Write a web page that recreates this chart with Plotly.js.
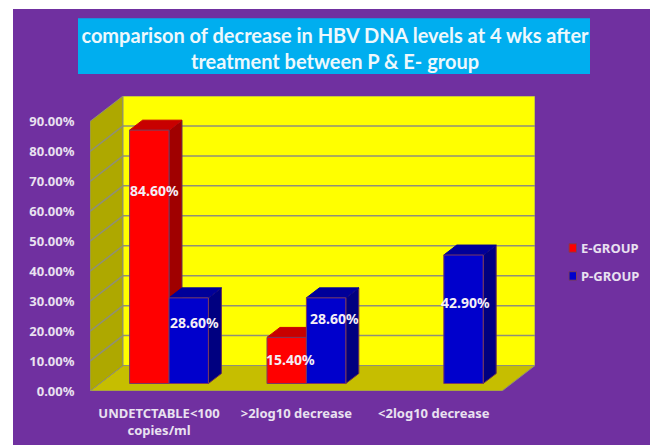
<!DOCTYPE html>
<html>
<head>
<meta charset="utf-8">
<script src="https://cdn.plot.ly/plotly-3.0.1.min.js"></script>
<style>
html,body{margin:0;padding:0;background:#fff;overflow:hidden}
#chart{position:absolute;left:13px;top:9px;width:637px;height:436px}
</style>
</head>
<body>
<div id="chart"></div>
<script>
// ---- data ----
const categoryIndex = [0, 1, 2];
const categoryLabels = ['UNDETCTABLE&lt;100<br>copies/ml', '&gt;2log10 decrease', '&lt;2log10 decrease'];
const seriesNames = ['E-GROUP', 'P-GROUP'];
const eGroup = [84.6, 15.4, null];
const pGroup = [28.6, 28.6, 42.9];
const yTicks = [0, 10, 20, 30, 40, 50, 60, 70, 80, 90];
const yTickLabels = ['0.00%', '10.00%', '20.00%', '30.00%', '40.00%', '50.00%', '60.00%', '70.00%', '80.00%', '90.00%'];
const titleText = 'comparison of decrease in HBV DNA levels at 4 wks after<br>treatment between P &amp; E- group';

// ---- 3-D look: projection offsets (x in category units, y in percent points) ----
const pxX = 137.4, pxY = 3;
const xMin = -79 / pxX, xMax = (535 - 90) / pxX + xMin;
const yMax = 295.5 / pxY;
const wallDX = 33 / pxX, wallDY = 25.5 / pxY;
const barBase = 7.5 / pxY, barShiftX = 10 / pxX;
const depthDX = 13 / pxX, depthDY = 10 / pxY;
const barW = 39.4 / pxX;
const frontRight = xMax - wallDX;
const yTop = 90;
const red = '#ff0000', blue = '#0000cc', barEdge = '#7a3a60';

const P = pts => 'M' + pts.map(p => p[0] + ',' + p[1]).join('L') + 'Z';
const poly = (pts, fill, line, w) => ({type: 'path', xref: 'x', yref: 'y', layer: 'below', path: P(pts),
  fillcolor: fill, line: {color: line || fill, width: w === undefined ? 1 : w}});
const seg = (a, b) => ({type: 'line', xref: 'x', yref: 'y', layer: 'below', x0: a[0], y0: a[1], x1: b[0], y1: b[1],
  line: {color: '#8f8f78', width: 1.5}});
const fx = px => (px - 90) / 445, fy = px => (391.5 - px) / 295.5;

const edge = '#8f8f78';
const shapes = [];
// title box
shapes.push({type: 'rect', xref: 'paper', yref: 'paper', layer: 'below',
  x0: fx(78), x1: fx(590), y0: fy(74), y1: fy(18), fillcolor: '#00aeef', line: {width: 0}});
// floor, side wall, back wall
shapes.push(poly([[xMin, 0], [frontRight, 0], [xMax, wallDY], [xMin + wallDX, wallDY]], '#c6be00', edge, 1));
shapes.push(poly([[xMin, 0], [xMin + wallDX, wallDY], [xMin + wallDX, yTop + wallDY], [xMin, yTop]], '#aea800', edge, 1));
shapes.push(poly([[xMin + wallDX, wallDY], [xMax, wallDY], [xMax, yTop + wallDY], [xMin + wallDX, yTop + wallDY]], '#ffff00', edge, 1));
yTicks.slice(1, -1).forEach(t => {
  shapes.push(seg([xMin, t], [xMin + wallDX, t + wallDY]));
  shapes.push(seg([xMin + wallDX, t + wallDY], [xMax, t + wallDY]));
});

// bar side and top faces, back to front
function faces(x0, v, top, side) {
  const x1 = x0 + barW, y0 = barBase, y1 = barBase + v;
  shapes.push(poly([[x1, y0], [x1 + depthDX, y0 + depthDY], [x1 + depthDX, y1 + depthDY], [x1, y1]], side, '#6a3050', 1));
  shapes.push(poly([[x0, y1], [x1, y1], [x1 + depthDX, y1 + depthDY], [x0 + depthDX, y1 + depthDY]], top, top, 1));
}
categoryIndex.forEach((c, i) => {
  if (eGroup[i] !== null) faces(c - barW, eGroup[i], '#c80000', '#a00000');
  if (pGroup[i] !== null) faces(c, pGroup[i], '#000099', '#000080');
});

// legend keys
const legendY = [248, 276];
const annotations = [];
[red, blue].forEach((col, i) => {
  shapes.push({type: 'rect', xref: 'paper', yref: 'paper', x0: fx(569), x1: fx(576.5),
    y0: fy(legendY[i] + 4.5), y1: fy(legendY[i] - 4), fillcolor: col, line: {color: barEdge, width: 1}});
  annotations.push({xref: 'paper', yref: 'paper', x: fx(579), xanchor: 'left', y: fy(legendY[i]), yanchor: 'middle',
    text: seriesNames[i], showarrow: false, font: {family: 'Noto Sans, sans-serif', size: 13, color: '#e9e1f0', weight: 700}});
});

// data labels (placement hand-tuned to the picture)
const labelStyle = {family: 'Noto Sans, sans-serif', size: 14, color: '#f4eef6', weight: 700};
const labelHeightsE = [64.3, 8];
const labelHeightsP = [20.3, 21.8, 27];
const labelShiftE = [5, 4, 0];
const labelShiftP = [6, 8, 2];
categoryIndex.forEach((c, i) => {
  if (eGroup[i] !== null) annotations.push({xref: 'x', yref: 'y', x: c - barW / 2, xshift: labelShiftE[i],
    y: labelHeightsE[i] + barBase, text: eGroup[i].toFixed(2) + '%', showarrow: false, font: labelStyle});
  if (pGroup[i] !== null) annotations.push({xref: 'x', yref: 'y', x: c + barW / 2, xshift: labelShiftP[i],
    y: labelHeightsP[i] + barBase, text: pGroup[i].toFixed(2) + '%', showarrow: false, font: labelStyle});
});

const barLine = {color: barEdge, width: 1};
const traces = [
  {type: 'bar', name: seriesNames[0], x: categoryIndex, y: eGroup, base: barBase, showlegend: false,
   marker: {color: red, line: barLine}},
  {type: 'bar', name: seriesNames[1], x: categoryIndex, y: pGroup, base: barBase, showlegend: false,
   marker: {color: blue, line: barLine}}
];

const axisFont = {family: 'Noto Sans, sans-serif', size: 13, color: '#e9e1f0', weight: 700};
const layout = {
  width: 637, height: 436, showlegend: false,
  paper_bgcolor: '#7030a0', plot_bgcolor: 'rgba(0,0,0,0)',
  margin: {l: 77, r: 115, t: 87, b: 53.5, pad: 0},
  title: {text: titleText, x: (335 - 13) / 637, xanchor: 'center', y: 1 - (43 - 9) / 436, yanchor: 'middle',
    font: {family: 'Lato, sans-serif', size: 20, color: '#eef8fc', weight: 700}},
  barmode: 'group', bargap: 1 - 2 * barW, bargroupgap: 0,
  xaxis: {range: [xMin, xMax], tickmode: 'array', tickvals: categoryIndex.map(c => c - barShiftX), ticktext: categoryLabels,
    showgrid: false, zeroline: false, showline: false, ticks: 'outside', ticklen: 10, tickcolor: 'rgba(0,0,0,0)',
    tickfont: axisFont, fixedrange: true},
  yaxis: {range: [0, yMax], tickmode: 'array', tickvals: yTicks, ticktext: yTickLabels,
    showgrid: false, zeroline: false, showline: false, ticks: 'outside', ticklen: 12, tickcolor: 'rgba(0,0,0,0)',
    tickfont: axisFont, fixedrange: true},
  shapes, annotations
};
Plotly.newPlot('chart', traces, layout, {displayModeBar: false, staticPlot: true});
</script>
</body>
</html>
